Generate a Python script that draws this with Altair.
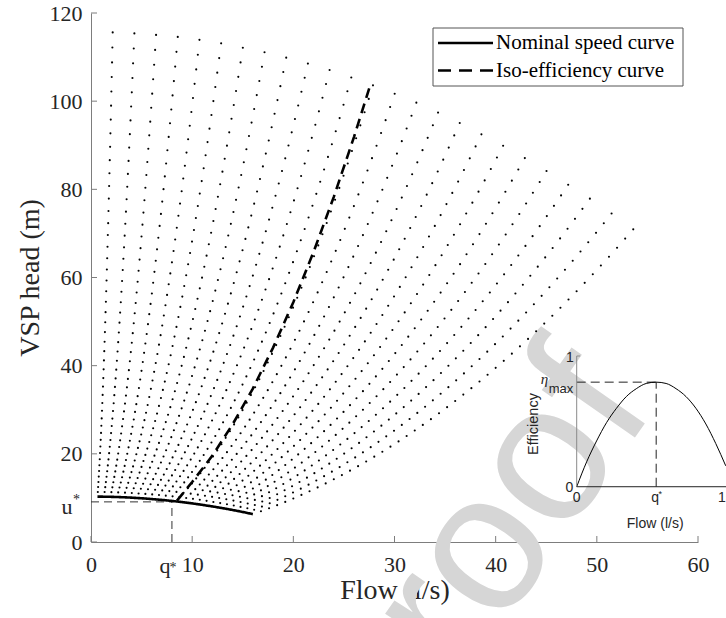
import altair as alt
import pandas as pd

# ---------------- data ----------------
speeds = [1.05, 1.10, 1.15, 1.20, 1.25, 1.30, 1.35, 1.40, 1.45, 1.50, 1.55, 1.60,
          1.65, 1.70, 1.75, 1.80, 1.85, 1.90, 1.95, 2.00, 2.05, 2.10, 2.15, 2.20,
          2.25, 2.30, 2.35, 2.40, 2.45, 2.50, 2.55, 2.60, 2.65, 2.70, 2.75, 2.80,
          2.85, 2.90, 2.95, 3.00, 3.05, 3.10, 3.15, 3.20, 3.25, 3.30, 3.35]
nominal_flow = [0.64, 1.28, 1.92, 2.56, 3.20, 3.84, 4.48, 5.12, 5.76, 6.40, 7.04, 7.68,
                8.32, 8.96, 9.60, 10.24, 10.88, 11.52, 12.16, 12.80, 13.44, 14.08, 14.72,
                15.36, 16.00]
nominal_head = [10.30, 10.28, 10.25, 10.21, 10.15, 10.08, 9.99, 9.90, 9.79, 9.67, 9.54,
                9.39, 9.23, 9.06, 8.88, 8.68, 8.47, 8.24, 8.01, 7.76, 7.50, 7.22, 6.94,
                6.64, 6.32]
iso_flow = [8.5, 10, 12, 14, 16, 18, 20, 22, 24, 26, 27.5]
iso_head = [9.4, 13.6, 19.6, 26.7, 34.8, 44.1, 54.4, 65.8, 78.3, 91.9, 102.9]
legend_labels = ["Nominal speed curve", "Iso-efficiency curve"]
x_ticks = [0, 10, 20, 30, 40, 50, 60]
y_ticks = [0, 20, 40, 60, 80, 100, 120]
q_star = 8.0
u_star = 9.1

eff_flow = [0, 1, 2, 3, 4, 5, 6, 7, 8, 9, 10, 11, 12, 13, 14, 15]
eff_value = [0.0, 0.19, 0.35, 0.49, 0.60, 0.69, 0.75, 0.79, 0.80, 0.79, 0.75, 0.69,
             0.60, 0.48, 0.33, 0.16]
eta_max = 0.8
inset_x_max = 15

# ---------------- tables ----------------
dots = pd.DataFrame([{"x": s * q, "y": s * s * h}
                     for s in speeds for q, h in zip(nominal_flow, nominal_head)])
curves = pd.DataFrame(
    [{"x": q, "y": h, "series": legend_labels[0]} for q, h in zip(nominal_flow, nominal_head)]
    + [{"x": q, "y": h, "series": legend_labels[1]} for q, h in zip(iso_flow, iso_head)])
one = pd.DataFrame({"k": [0]})

SERIF = "Liberation Serif"
SANS = "Liberation Sans"
AX = "#7d7d7d"
TXT = "#262626"
W, H = 607, 529

xs = alt.Scale(domain=[0, 60], nice=False, zero=False)
ys = alt.Scale(domain=[0, 120], nice=False, zero=False)

xaxis = alt.Axis(values=x_ticks, ticks=False, grid=False, domainColor=AX, domainWidth=1,
                 labelFont=SERIF, labelFontSize=22, labelColor=TXT, labelPadding=12,
                 labelFlush=False, labelOverlap=False,
                 title="Flow (l/s)", titleFont=SERIF, titleFontSize=28,
                 titleFontWeight="normal", titleColor=TXT, titleY=56,
                 titleBaseline="alphabetic")
yaxis = alt.Axis(values=y_ticks, ticks=False, grid=False, domainColor=AX, domainWidth=1,
                 labelFont=SERIF, labelFontSize=22, labelColor=TXT, labelPadding=9,
                 labelFlush=False, labelOverlap=False,
                 title="VSP head (m)", titleFont=SERIF, titleFontSize=28,
                 titleFontWeight="normal", titleColor=TXT, titleX=-53, titleY=H / 2,
                 titleAngle=270, titleAlign="center", titleBaseline="alphabetic")


def X(f="x:Q"):
    return alt.X(f, scale=xs, axis=xaxis)


def Y(f="y:Q"):
    return alt.Y(f, scale=ys, axis=yaxis)


# watermark
watermark = alt.Chart(one).mark_text(
    text="proof", font=SANS, fontSize=196, color="#d6d6d6", angle=305,
    align="left", baseline="alphabetic"
).encode(x=alt.value(309), y=alt.value(760))

dot_layer = alt.Chart(dots).mark_circle(size=4.5, color="black", opacity=1).encode(
    x=X(), y=Y())

guides = pd.DataFrame({"x": [0, q_star], "x2": [q_star, q_star],
                       "y": [u_star, 0], "y2": [u_star, u_star]})
guide_layer = alt.Chart(guides).mark_rule(color="#333333", strokeWidth=1,
                                          strokeDash=[8, 5]).encode(
    x=X(), x2="x2:Q", y=Y(), y2="y2:Q")

line_layer = alt.Chart(curves).mark_line(color="black", strokeWidth=2.6).encode(
    x=X(), y=Y(),
    strokeDash=alt.StrokeDash("series:N", scale=alt.Scale(domain=legend_labels,
                                                          range=[[1, 0], [10, 6]]),
                              legend=None))

xt = alt.Chart(pd.DataFrame({"x": x_ticks})).mark_rule(color=AX).encode(
    x=X(), y=alt.value(H), y2=alt.value(H - 6))
yt = alt.Chart(pd.DataFrame({"y": y_ticks})).mark_rule(color=AX).encode(
    y=Y(), x=alt.value(0), x2=alt.value(6))

qx = alt.X(datum=q_star, type="quantitative", scale=xs, axis=xaxis)
uy = alt.Y(datum=u_star, type="quantitative", scale=ys, axis=yaxis)
q_lab = alt.Chart(one).mark_text(text="q", font=SERIF, fontSize=22, color=TXT,
                                 baseline="alphabetic", dx=-7).encode(x=qx, y=alt.value(560))
q_sup = alt.Chart(one).mark_text(text="*", font=SERIF, fontSize=14, color=TXT,
                                 baseline="alphabetic", dx=1).encode(x=qx, y=alt.value(559))
u_lab = alt.Chart(one).mark_text(text="u", font=SERIF, fontSize=22, color=TXT,
                                 baseline="alphabetic", dy=12).encode(x=alt.value(-24), y=uy)
u_sup = alt.Chart(one).mark_text(text="*", font=SERIF, fontSize=14, color=TXT,
                                 baseline="alphabetic", dy=2).encode(x=alt.value(-14.5), y=uy)

# legend (drawn)
leg_box = alt.Chart(one).mark_rect(fill="white", stroke="#555555", strokeWidth=1).encode(
    x=alt.value(342), x2=alt.value(592), y=alt.value(15), y2=alt.value(73))
leg_items = []
for i, (lab, dash) in enumerate(zip(legend_labels, [[1, 0], [13, 8]])):
    yy = 30 + 27.5 * i
    leg_items.append(alt.Chart(one).mark_rule(color="black", strokeWidth=2.6,
                                              strokeDash=dash).encode(
        x=alt.value(347), x2=alt.value(402), y=alt.value(yy)))
    leg_items.append(alt.Chart(one).mark_text(text=lab, font=SERIF, fontSize=21, color="black",
                                              align="left", baseline="middle").encode(
        x=alt.value(405), y=alt.value(yy)))

# ---------------- inset (placed inside the main axes) ----------------
IX0, IKX = 48.01, 0.982   # inset flow 0 -> main flow 48.01, 1 unit -> 0.982
IY0, IKY = 12.54, 29.65   # inset efficiency 0 -> main head 12.54, 1 unit -> 29.65


def place(chart, two=False):
    calc = {"x": f"{IX0} + datum.ix * {IKX}", "y": f"{IY0} + datum.iy * {IKY}"}
    if two:
        calc["x2"] = f"{IX0} + datum.ix2 * {IKX}"
        calc["y2"] = f"{IY0} + datum.iy2 * {IKY}"
    return chart.transform_calculate(**calc)


eff = pd.DataFrame({"ix": eff_flow, "iy": eff_value})
eff_line = place(alt.Chart(eff).mark_line(color="black", strokeWidth=1,
                                          interpolate="monotone")).encode(x=X(), y=Y())

inset_rules = pd.DataFrame({
    "ix": [0, 0, 0], "ix2": [0, inset_x_max + 0.6, 0.35],
    "iy": [0, 0, 1], "iy2": [1, 0, 1],
    "c": ["g", "k", "g"]})
i_axes = place(alt.Chart(inset_rules).mark_rule(strokeWidth=1), two=True).encode(
    x=X(), x2="x2:Q", y=Y(), y2="y2:Q",
    color=alt.Color("c:N", scale=alt.Scale(domain=["g", "k"], range=["#8a8a8a", "#222222"]),
                    legend=None))
iguides = pd.DataFrame({"ix": [0, q_star], "ix2": [q_star, q_star],
                        "iy": [eta_max, 0], "iy2": [eta_max, eta_max]})
i_guides = place(alt.Chart(iguides).mark_rule(color="#222222", strokeWidth=1,
                                              strokeDash=[9, 5]), two=True).encode(
    x=X(), x2="x2:Q", y=Y(), y2="y2:Q")


def itext(text, ixv, iyv, **kw):
    props = dict(font=SANS, fontSize=14, color=TXT)
    props.update(kw)
    d = pd.DataFrame({"ix": [ixv], "iy": [iyv]})
    return place(alt.Chart(d).mark_text(text=text, **props)).encode(x=X(), y=Y())


inset_texts = [
    itext("0", 0, 0, align="center", baseline="alphabetic", dy=15),
    itext("q", q_star, 0, align="center", baseline="alphabetic", dy=15, dx=-1),
    itext("*", q_star, 0, align="center", baseline="alphabetic", dy=10, dx=4, fontSize=9),
    itext(str(inset_x_max), inset_x_max, 0, align="center", baseline="alphabetic", dy=15),
    itext("0", 0, 0, align="right", baseline="middle", dx=-3.5, dy=1),
    itext("1", 0, 1, align="right", baseline="middle", dx=-3, dy=2),
    itext("max", 0, eta_max, align="right", baseline="alphabetic", dx=-3.4, dy=11, fontSize=13),
    itext("η", 0, eta_max, align="right", baseline="alphabetic", dx=-28.4, dy=2,
          font=SERIF, fontStyle="italic", fontSize=15),
    itext("Flow (l/s)", 7.9, 0, align="center", baseline="alphabetic", dy=41),
]
eff_title = alt.Chart(one).mark_text(
    text="Efficiency", font=SANS, fontSize=14.5, color=TXT, angle=270,
    align="center", baseline="alphabetic").encode(x=alt.value(447), y=alt.value(411))

chart = alt.layer(
    watermark, dot_layer, guide_layer, line_layer, xt, yt,
    q_lab, q_sup, u_lab, u_sup, leg_box, *leg_items,
    i_guides, eff_line, i_axes, *inset_texts, eff_title
).properties(
    width=W, height=H,
    autosize=alt.AutoSizeParams(type="none"),
    padding={"left": 91, "top": 13, "right": 28, "bottom": 76},
).configure_view(stroke=None)

chart.save("out.html", embed_options={"renderer": "svg", "actions": False})
